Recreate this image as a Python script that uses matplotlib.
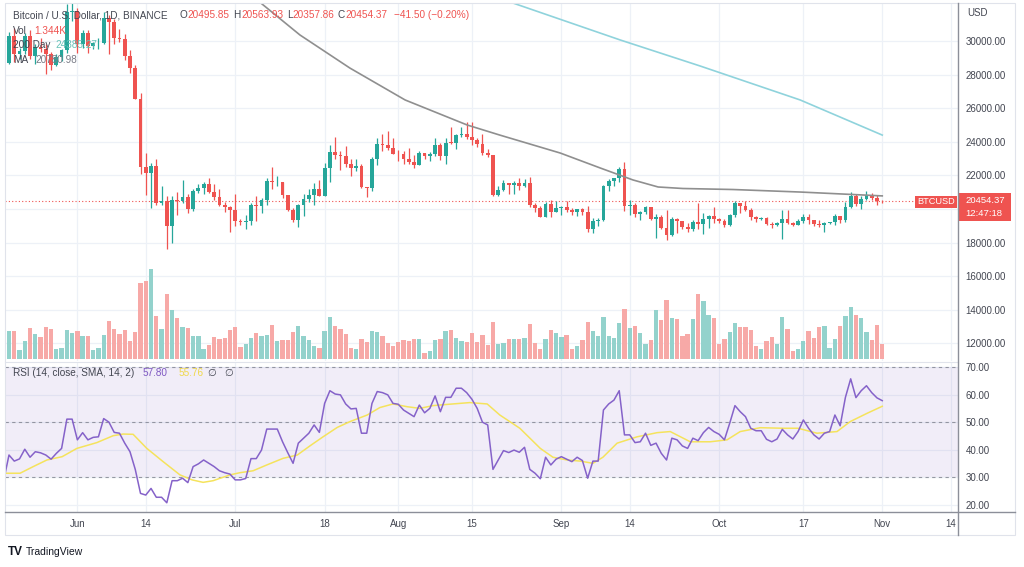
import datetime as dt
import numpy as np
import pandas as pd
import matplotlib
matplotlib.use("Agg")
import matplotlib.pyplot as plt
import matplotlib.dates as mdates
from matplotlib.patches import Rectangle
from matplotlib.lines import Line2D

plt.rcParams['font.family'] = ['Liberation Sans', 'DejaVu Sans']

# ---- daily BTCUSD candles, 2022-05-18 .. 2022-11-01 ----
first_day = '2022-05-18'

opens = [
    30400, 28700, 30300, 29200, 29430, 30300, 29100, 29650, 29540, 29200, 28600, 29030, 29470, 31720,
    31800, 29800, 30450, 29700, 29860, 29900, 31370, 31130, 30200, 30110, 29090, 28420, 26570, 22480, 22130,
    22580, 20380, 20450, 19010, 20550, 20500, 20720, 19990, 21100, 21230, 21500, 21030, 20730, 20250, 20100,
    19940, 19270, 19240, 19300, 20230, 20180, 20550, 21640, 21590, 21600, 20850, 19960, 19330, 20210, 20590,
    20830, 21190, 20790, 22430, 23400, 23230, 23160, 22680, 22460, 22580, 21310, 21250, 22950, 23850, 23780, 23640,
    23300, 23270, 22980, 22820, 22620, 23310, 23180, 23300, 23810, 23160, 23950, 23940, 24400, 24440, 24300,
    24100, 23850, 23340, 23190, 20830, 21140, 21520, 21400, 21530, 21370, 21560, 20240, 20040, 19550, 20280, 19800,
    20050, 20130, 19950, 19830, 19990, 19800, 18790, 19290, 19320, 21360, 21650, 21830, 22400, 20170, 20230,
    19700, 19800, 20110, 19420, 19540, 18880, 18480, 19410, 19300, 18920, 18810, 19220, 19080, 19410, 19590,
    19420, 19310, 19060, 19620, 20340, 20160, 19960, 19530, 19420, 19440, 19130, 19060, 19150, 19380, 19180,
    19070, 19260, 19550, 19330, 19120, 19040, 19170, 19200, 19570, 19330, 20090, 20770, 20290, 20600, 20820, 20630,
    20495.85,
]
highs = [
    30650, 30550, 30750, 29600, 30450, 30650, 29800, 30200, 29850, 29350, 29200, 29550, 32200, 32400,
    31980, 30650, 30680, 29950, 30150, 31750, 31550, 31330, 30700, 30400, 29450, 28580, 26900, 23350, 22750,
    22950, 21350, 20750, 20800, 21000, 21700, 20870, 21200, 21500, 21600, 21850, 21500, 21200, 20400, 20150,
    20900, 19430, 19650, 20350, 20750, 20650, 21850, 22500, 21950, 21600, 20850, 20050, 20300, 20900, 21200,
    21550, 21700, 22750, 23800, 24280, 23450, 23750, 22980, 23000, 22650, 21330, 23100, 24200, 24450, 24670, 24200,
    23500, 23450, 23650, 23200, 23450, 23350, 23400, 24250, 23930, 24230, 24900, 24450, 24900, 25200, 25200,
    24250, 24450, 23600, 23200, 21380, 21700, 21520, 21680, 21850, 21800, 21880, 20380, 20150, 20400, 20560, 20480,
    20200, 20450, 20050, 20000, 20050, 20180, 19450, 19450, 21450, 21800, 21850, 22480, 22790, 20550, 20330,
    19900, 20180, 20110, 19690, 19640, 19950, 19500, 19480, 19300, 19180, 19320, 20380, 19780, 19640, 20120,
    19480, 19400, 19720, 20470, 20360, 20450, 20050, 19600, 19550, 19520, 19250, 19220, 19950, 19950, 19220,
    19420, 19690, 19700, 19350, 19350, 19250, 19250, 19700, 19600, 20400, 21020, 20870, 20750, 21080, 20930, 20840,
    20563.93,
]
lows = [
    28650, 28650, 28750, 28950, 29250, 28900, 28650, 29350, 28020, 28250, 28500, 28800, 29300, 31200,
    29300, 29600, 29300, 29500, 29500, 29850, 29250, 29850, 29950, 28850, 28100, 26550, 22100, 20850, 20080,
    20250, 20250, 17600, 17960, 19650, 20350, 19770, 19900, 20950, 20900, 20950, 20550, 20200, 19850, 18630,
    18980, 19020, 18800, 19050, 19300, 19780, 20250, 21200, 21350, 20650, 19900, 19250, 18900, 19600, 20400,
    20250, 20760, 20770, 21600, 22950, 22350, 22500, 21950, 22270, 21250, 20700, 21050, 22600, 23450, 23500, 23250,
    22850, 22650, 22700, 22450, 22600, 22950, 22850, 23150, 22900, 22700, 23860, 23600, 24300, 24150, 23800,
    23700, 23200, 23100, 20770, 20760, 21070, 20900, 20900, 21150, 21330, 20110, 19800, 19550, 19550, 19550, 19800,
    19650, 19800, 19650, 19600, 19650, 18650, 18550, 19000, 19300, 21100, 21350, 21600, 19870, 19650, 19500,
    19320, 19700, 19360, 18270, 18800, 18130, 18370, 18600, 18800, 18650, 18690, 18820, 18500, 18840, 19170,
    19150, 18920, 19000, 19500, 19740, 19860, 19330, 19250, 19320, 19030, 18860, 18970, 18190, 19080, 18970,
    19060, 19160, 19100, 19000, 18900, 18650, 19110, 19070, 19160, 19250, 20060, 20200, 20000, 20560, 20520, 20220,
    20357.86,
]
closes = [
    28700, 30300, 29200, 29430, 30300, 29100, 29650, 29540, 29200, 28600, 29030, 29470, 31720, 31800,
    29800, 30450, 29700, 29860, 29900, 31370, 31130, 30200, 30110, 29090, 28420, 26570, 22480, 22130, 22580,
    20380, 20450, 19010, 20550, 20500, 20720, 19990, 21100, 21230, 21500, 21030, 20730, 20250, 20100, 19940,
    19270, 19240, 19300, 20230, 20180, 20550, 21640, 21590, 21600, 20850, 19960, 19330, 20210, 20590, 20830,
    21190, 20790, 22430, 23400, 23230, 23160, 22680, 22460, 22580, 21310, 21250, 22950, 23850, 23780, 23640, 23300,
    23270, 22980, 22820, 22620, 23310, 23180, 23300, 23810, 23160, 23950, 23940, 24400, 24440, 24300, 24100,
    23850, 23340, 23190, 20830, 21140, 21520, 21400, 21530, 21370, 21560, 20240, 20040, 19550, 20280, 19800, 20050,
    20130, 19950, 19830, 19990, 19800, 18790, 19290, 19320, 21360, 21650, 21830, 22400, 20170, 20230, 19700,
    19800, 20110, 19420, 19540, 18880, 18480, 19410, 19300, 18920, 18810, 19220, 19080, 19410, 19590, 19420,
    19310, 19060, 19620, 20340, 20160, 19960, 19530, 19420, 19440, 19130, 19060, 19150, 19380, 19180, 19070,
    19260, 19550, 19330, 19120, 19040, 19170, 19200, 19570, 19330, 20090, 20770, 20290, 20600, 20820, 20630, 20495.85,
    20454.37,
]
# volume in thousands of BTC
volumes = [
    2.9, 2.53, 2.53, 0.85, 1.62, 2.80, 2.28, 2.01, 2.95, 2.68, 0.91, 0.97, 2.65, 2.32,
    2.50, 2.07, 2.07, 0.79, 0.97, 2.22, 3.47, 2.68, 2.28, 2.59, 1.62, 2.41, 6.95, 7.07, 8.17,
    3.93, 2.74, 5.94, 4.45, 3.69, 2.86, 2.80, 2.04, 2.04, 0.91, 1.22, 1.95, 1.77, 1.86, 2.59,
    2.89, 1.04, 1.31, 1.92, 2.35, 2.04, 2.13, 3.11, 1.62, 1.71, 1.74, 2.44, 2.99, 2.07, 1.68,
    1.19, 0.97, 2.53, 3.78, 2.99, 2.74, 2.26, 0.97, 0.91, 1.77, 1.55, 2.56, 2.47, 2.07, 1.46, 1.13,
    1.55, 1.71, 1.59, 1.77, 1.83, 0.55, 0.73, 1.68, 1.80, 2.53, 2.59, 1.92, 1.62, 1.55, 2.35,
    1.55, 2.19, 1.28, 3.35, 1.37, 1.40, 1.80, 1.77, 1.77, 1.92, 3.14, 1.40, 0.91, 1.80, 2.59, 2.35,
    1.95, 2.19, 0.88, 1.16, 1.68, 3.35, 2.50, 2.07, 3.78, 2.07, 1.89, 3.29, 4.57, 2.80, 2.99,
    2.35, 1.34, 1.71, 4.45, 3.54, 5.36, 3.69, 3.66, 2.07, 2.28, 3.63, 5.91, 5.27, 3.99, 3.72,
    1.37, 1.80, 2.41, 3.29, 2.86, 2.95, 2.65, 1.16, 0.88, 1.65, 1.95, 1.34, 3.81, 2.68, 0.70,
    0.88, 1.62, 2.53, 1.86, 2.89, 3.02, 1.01, 1.80, 2.99, 3.90, 4.72, 3.96, 3.75, 2.47, 1.68, 3.08,
    1.344,
]
rsi = [
    29.0, 38.1, 35.9, 36.7, 40.2, 37.3, 39.3, 38.9, 38.1, 36.6, 38.7, 40.5, 51.1, 51.1,
    43.6, 46.2, 43.6, 44.5, 44.7, 51.3, 50.0, 46.3, 46.0, 42.4, 39.3, 32.9, 24.2, 23.6, 26.0,
    22.8, 22.8, 20.8, 28.8, 28.8, 29.7, 28.1, 33.9, 34.9, 36.3, 35.1, 33.9, 32.4, 31.7, 31.2,
    29.1, 29.1, 29.6, 36.8, 36.8, 39.9, 47.5, 47.5, 47.5, 42.9, 38.9, 35.1, 42.4, 44.2, 46.0,
    49.0, 46.3, 56.8, 61.4, 60.2, 59.9, 56.6, 54.8, 55.0, 46.0, 46.0, 56.8, 61.1, 60.7, 59.9, 56.8,
    56.5, 54.4, 53.2, 52.0, 56.2, 53.4, 55.0, 59.5, 53.8, 59.0, 59.0, 62.3, 62.3, 60.7, 58.3,
    55.0, 50.0, 49.0, 32.9, 36.3, 39.7, 39.0, 39.9, 39.1, 40.9, 32.9, 31.5, 29.5, 37.3, 34.5, 36.6,
    37.5, 36.6, 35.7, 37.3, 36.1, 29.7, 35.9, 35.9, 54.4, 56.6, 58.0, 61.4, 45.4, 45.4, 42.6,
    42.9, 46.0, 41.6, 42.4, 38.7, 36.3, 44.2, 43.6, 41.4, 40.5, 44.2, 43.3, 46.2, 48.1, 46.6,
    45.6, 43.6, 49.6, 56.0, 53.8, 52.0, 47.8, 46.9, 46.9, 43.8, 42.9, 43.9, 47.4, 45.4, 43.9,
    46.6, 50.8, 47.8, 45.4, 43.9, 46.0, 46.6, 52.6, 48.7, 59.0, 65.7, 58.9, 61.4, 63.2, 60.7, 58.8,
    57.8,
]

# smooth lines: day offset from 2022-05-19, value
ma100_day = [46.0, 55.3, 64.8, 75.3, 87.1, 93.3, 104.8, 112.4, 118.6, 123.4, 128.1, 137.6, 150.4, 166.0]
ma100_val = [32740, 30360, 28390, 26490, 25000, 24400, 23330, 22440, 21730, 21310, 21220, 21160, 21010, 20780]
ma200_day = [93.3, 116.2, 131.4, 150.4, 166.0]
ma200_val = [32530, 30060, 28510, 26490, 24400]
rsi_ma_day = [-1.0, 2.1, 4.6, 7.2, 10.1, 12.9, 16.7, 19.8, 21.7, 23.6, 26.2, 29.3, 32.5, 34.8, 36.9,
              38.8, 42.0, 43.9, 46.4, 49.0, 52.1, 54.8, 57.2, 59.7, 62.4, 64.8, 68.1, 70.5, 73.0, 75.7,
              78.1, 80.6, 83.7, 87.6, 90.9, 93.3, 97.1, 101.0, 103.4, 106.1, 108.6, 111.0, 112.9, 115.6,
              119.4, 123.2, 125.7, 129.5, 133.3, 136.5, 139.0, 142.8, 147.1, 150.0, 153.6, 157.4, 159.9,
              163.1, 166.0]
rsi_ma_val = [31.5, 31.5, 33.9, 36.3, 37.5, 40.5, 42.6, 45.1, 45.7, 45.6, 40.5, 35.7, 30.9, 29.1, 28.2,
              28.8, 30.9, 31.7, 32.4, 34.5, 36.9, 38.1, 41.4, 44.7, 48.1, 50.2, 52.6, 55.3, 56.6, 55.6,
              55.0, 56.0, 56.5, 57.1, 56.6, 52.6, 47.8, 40.5, 37.3, 36.3, 35.9, 35.1, 37.3, 42.4,
              44.7, 46.2, 46.6, 42.9, 42.9, 43.6, 46.6, 48.0, 47.8, 47.8, 46.0, 46.6, 50.2,
              53.2, 55.76]

tick_dates = ['2022-06-01', '2022-06-14', '2022-07-01', '2022-07-18', '2022-08-01', '2022-08-15',
              '2022-09-01', '2022-09-14', '2022-10-01', '2022-10-17', '2022-11-01', '2022-11-14']
tick_labels = ['Jun', '14', 'Jul', '18', 'Aug', '15', 'Sep', '14', 'Oct', '17', 'Nov', '14']
price_ticks = [12000, 14000, 16000, 18000, 20000, 22000, 24000, 26000, 28000, 30000]
rsi_ticks = [20, 30, 40, 50, 60, 70]

UP = '#26a69a'
DOWN = '#ef5350'
VOL_UP = '#93d2cc'
VOL_DOWN = '#f7a9a7'
TXT = '#434651'
GRID = '#edf1f7'
FS = 7.2      # legend text
AXFS = 7.0    # scale labels

W, H = 1024, 567


def fx(px):
    return px / W


def fy(py):
    return 1 - py / H


def ptext(px, py, s, **kw):
    kw.setdefault('fontsize', FS)
    kw.setdefault('color', TXT)
    fig.text(fx(px), fy(py), s, va='center', ha=kw.pop('ha', 'left'), **kw)


o = np.array(opens, dtype=float)
h = np.array(highs, dtype=float)
l = np.array(lows, dtype=float)
c = np.array(closes, dtype=float)
dates = pd.date_range(first_day, periods=len(c), freq='D')
x = mdates.date2num(dates.to_pydatetime())
base = mdates.date2num(dt.datetime(2022, 5, 19))
up = c >= o
col = np.where(up, UP, DOWN)
vcol = np.where(up, VOL_UP, VOL_DOWN)

fig = plt.figure(figsize=(W / 100, H / 100), dpi=100)
fig.patch.set_facecolor('white')

price_rect = [fx(5), fy(361), fx(958) - fx(5), fy(3) - fy(361)]
ax = fig.add_axes(price_rect)
axv = fig.add_axes(price_rect, sharex=ax)
axr = fig.add_axes([fx(5), fy(512), fx(958) - fx(5), fy(362) - fy(512)], sharex=ax)

# price pane; the 20000 label sits under the last-price tag, so leave it blank
ax.set_ylim(10952, 32262)
ax.set_yticks(price_ticks)
ax.set_yticklabels(['' if v == 20000 else '%.2f' % v for v in price_ticks])
ax.yaxis.tick_right()
ax.tick_params(axis='y', length=0, pad=5.5, labelsize=AXFS, labelcolor=TXT)
ax.tick_params(axis='x', length=0, labelbottom=False)
ax.grid(True, color=GRID, lw=0.9)
ax.set_axisbelow(True)

ax.vlines(x, l, h, colors=col, lw=0.9, zorder=3)
ax.bar(x, np.maximum(np.abs(c - o), 25), bottom=np.minimum(o, c), width=0.72,
       color=col, lw=0, zorder=4)
ax.plot(base + np.array(ma100_day), ma100_val, color='#8f8f8f', lw=1.2, zorder=5)
ax.plot(base + np.array(ma200_day), ma200_val, color='#8fd3dc', lw=1.2, zorder=5)
ax.axhline(closes[-1], color=DOWN, lw=0.8, ls=(0, (1, 2)), zorder=2)

# volume overlay
axv.set_facecolor('none')
axv.bar(x, volumes, width=0.82, color=vcol, lw=0)
axv.set_ylim(-0.2, 32.5)
axv.axis('off')

# RSI pane
axr.set_ylim(17.46, 71.8)
axr.set_yticks(rsi_ticks)
axr.set_yticklabels(['%.2f' % v for v in rsi_ticks])
axr.yaxis.tick_right()
axr.tick_params(axis='y', length=0, pad=5.5, labelsize=AXFS, labelcolor=TXT)
axr.grid(True, color=GRID, lw=0.9)
axr.set_axisbelow(True)
axr.axhspan(30, 70, color='#7e57c2', alpha=0.1, lw=0)
for lev in (70, 50, 30):
    axr.axhline(lev, color='#787b86', lw=0.8, ls=(0, (3, 3)), alpha=0.75)
axr.plot(base + np.array(rsi_ma_day), rsi_ma_val, color='#f5e35c', lw=1.1)
axr.plot(x, rsi, color='#8562c9', lw=1.1)

axr.set_xticks(mdates.date2num(pd.to_datetime(tick_dates).to_pydatetime()))
axr.set_xticklabels(tick_labels)
axr.tick_params(axis='x', length=0, pad=5, labelsize=AXFS, labelcolor=TXT)
axr.set_xlim(base - 0.76, base + 180.4)

for a in (ax, axr):
    for s in a.spines.values():
        s.set_visible(False)

# frame lines
fig.add_artist(Rectangle((fx(5), fy(535)), fx(1015) - fx(5), fy(3) - fy(535),
                         fill=False, ec='#e0e3eb', lw=0.8, transform=fig.transFigure))
fig.add_artist(Line2D([fx(5), fx(958)], [fy(361.5), fy(361.5)], color='#e0e3eb', lw=0.8))
fig.add_artist(Line2D([fx(5), fx(1015)], [fy(512), fy(512)], color='#8c8f99', lw=1))
fig.add_artist(Line2D([fx(958), fx(958)], [fy(3), fy(535)], color='#8c8f99', lw=1))

# legends
ptext(13, 15, 'Bitcoin / U.S. Dollar, 1D, BINANCE')
ptext(179, 15, 'O')
ptext(187, 15, '20495.85', color=DOWN)
ptext(233, 15, 'H')
ptext(241, 15, '20563.93', color=DOWN)
ptext(287, 15, 'L')
ptext(292, 15, '20357.86', color=DOWN)
ptext(337, 15, 'C')
ptext(345, 15, '20454.37', color=DOWN)
ptext(394, 15, '\u221241.50 (\u22120.20%)', color=DOWN)
ptext(13, 31, 'Vol')
ptext(34, 31, '1.344K', color=DOWN)
ptext(13, 45, '200 Day')
ptext(55, 45, '24385.27', color='#66c2b8')
ptext(13, 60, 'MA')
ptext(35, 60, '20780.98', color='#787b86')
ptext(13, 373, 'RSI (14, close, SMA, 14, 2)')
ptext(143, 373, '57.80', color='#7e57c2')
ptext(179, 373, '55.76', color='#f0d84a')
ptext(207, 373, '\u2205', family=['DejaVu Sans'])
ptext(224, 373, '\u2205', family=['DejaVu Sans'])

# right scale extras
ptext(967, 13, 'USD', fontsize=AXFS)
fig.add_artist(Rectangle((fx(915), fy(208)), fx(957) - fx(915), fy(196) - fy(208),
                         color=DOWN, lw=0, transform=fig.transFigure))
ptext(936, 202, 'BTCUSD', color='white', fontsize=6.6, ha='center')
fig.add_artist(Rectangle((fx(958), fy(221)), fx(1011) - fx(958), fy(193) - fy(221),
                         color=DOWN, lw=0, transform=fig.transFigure))
ptext(965, 200.5, '20454.37', color='white', fontsize=6.8)
ptext(965, 213.5, '12:47:18', color='white', fontsize=6.8)

# footer
ptext(8, 552, 'TV', color='#131722', fontsize=8.5, fontweight='bold')
ptext(26, 552, 'TradingView', color='#131722', fontsize=7.5)

fig.savefig('out.png', dpi=100)
